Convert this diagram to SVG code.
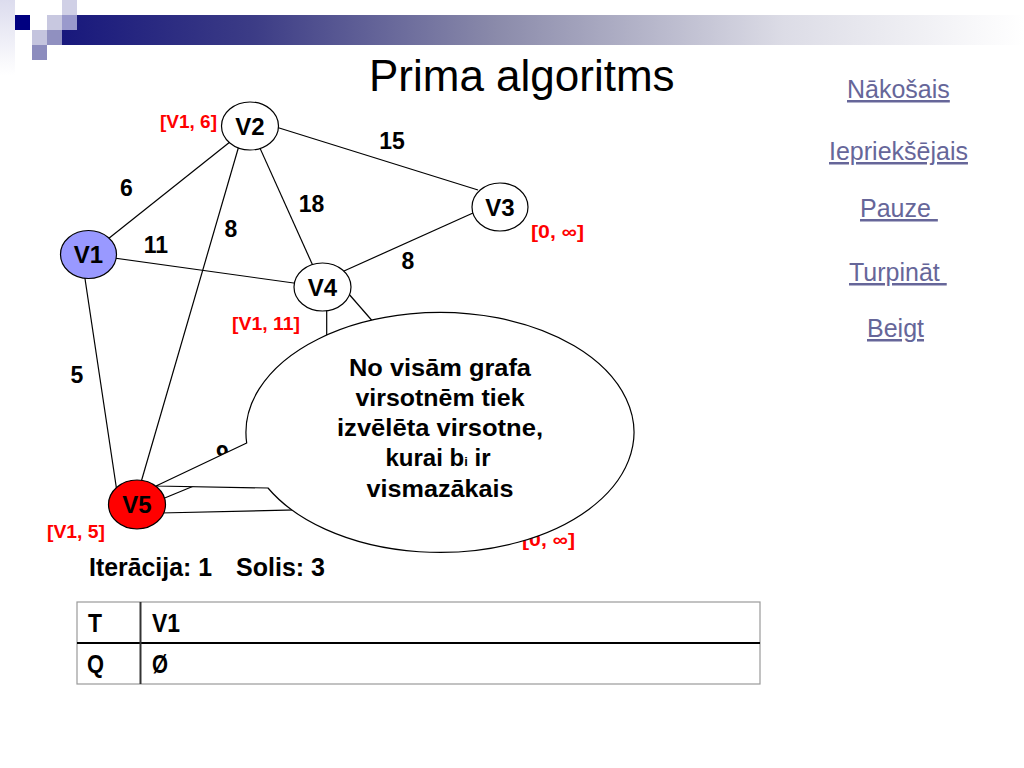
<svg xmlns="http://www.w3.org/2000/svg" width="1024" height="768" viewBox="0 0 1024 768">
<defs>
<linearGradient id="bar" x1="0" y1="0" x2="1" y2="0">
<stop offset="0" stop-color="#18187c"/>
<stop offset="0.2" stop-color="#3c3c86"/>
<stop offset="0.45" stop-color="#8a8aaa"/>
<stop offset="0.75" stop-color="#dcdce6"/>
<stop offset="1" stop-color="#ffffff"/>
</linearGradient>
<linearGradient id="side" x1="0" y1="0" x2="0" y2="1">
<stop offset="0" stop-color="#dcdcee"/>
<stop offset="1" stop-color="#ffffff"/>
</linearGradient>
<style>
.edge{stroke:#000;stroke-width:1.2;fill:none}
.node{stroke:#000;stroke-width:1.2}
.nl{font-family:"Liberation Sans",Arial,sans-serif;font-weight:bold;font-size:24px;text-anchor:middle;fill:#000}
.w{font-family:"Liberation Sans",Arial,sans-serif;font-weight:bold;font-size:23px;text-anchor:middle;fill:#000}
.red{font-family:"Liberation Sans",Arial,sans-serif;font-weight:bold;font-size:18px;fill:#ff0000}
.link{font-family:"Liberation Sans",Arial,sans-serif;font-size:25px;fill:#666699;text-decoration:underline;white-space:pre}
.ct{font-family:"Liberation Sans",Arial,sans-serif;font-weight:bold;font-size:24px;fill:#000;text-anchor:middle}
.tb{font-family:"Liberation Sans",Arial,sans-serif;font-weight:bold;font-size:25px;fill:#000}
</style>
</defs>
<rect width="1024" height="768" fill="#ffffff"/>

<g id="decoration">
<rect x="0" y="0" width="15" height="75" fill="url(#side)"/>
<rect x="62" y="15" width="962" height="30" fill="url(#bar)"/>
<rect x="15" y="15" width="15" height="15" fill="#000080"/>
<rect x="47" y="15" width="15" height="15" fill="#c8c8e0"/>
<rect x="62" y="0" width="15" height="15" fill="#d0d0e6"/>
<rect x="62" y="15" width="15" height="15" fill="#9a9acc"/>
<rect x="32" y="30" width="15" height="15" fill="#c4c4de"/>
<rect x="47" y="30" width="15" height="15" fill="#9090c0"/>
<rect x="32" y="45" width="15" height="15" fill="#8c8cbe"/>
</g>

<text x="369" y="91" font-family="Liberation Sans, Arial, sans-serif" font-size="44" fill="#000">Prima algoritms</text>

<g id="links">
<text class="link" x="847" y="98">Nākošais</text>
<text class="link" x="829" y="160">Iepriekšējais</text>
<text class="link" x="860" y="217">Pauze </text>
<text class="link" x="849" y="281">Turpināt </text>
<text class="link" x="867" y="337">Beigt</text>
</g>

<g id="connectors">
<line class="edge" x1="88.5" y1="254.5" x2="250" y2="126"/>
<line class="edge" x1="88.5" y1="254.5" x2="322.5" y2="287"/>
<line class="edge" x1="250" y1="126" x2="322.5" y2="287"/>
<line class="edge" x1="276" y1="127" x2="478" y2="190"/>
<line class="edge" x1="473" y1="213" x2="344" y2="271"/>
<line class="edge" x1="244.7" y1="126" x2="134.4" y2="505"/>
<line class="edge" x1="84" y1="272" x2="117" y2="492"/>
<line class="edge" x1="326.7" y1="305" x2="326.7" y2="370"/>
<line class="edge" x1="348" y1="293" x2="395" y2="347"/>
<line class="edge" x1="155" y1="502" x2="235" y2="469"/>
<line class="edge" x1="160" y1="513" x2="420" y2="507"/>
</g>

<g id="weights">
<text class="w" x="392" y="149">15</text>
<text class="w" x="126.5" y="196">6</text>
<text class="w" x="311.5" y="212">18</text>
<text class="w" x="231" y="237">8</text>
<text class="w" x="156" y="253">11</text>
<text class="w" x="408" y="269">8</text>
<text class="w" x="77" y="383">5</text>
<text class="w" x="222.5" y="462">9</text>
</g>

<g id="node-V1">
<ellipse class="node" cx="88.5" cy="254.5" rx="28" ry="24" fill="#9999ff"/>
<text class="nl" x="88.5" y="263">V1</text>
</g>
<g id="node-V2">
<ellipse class="node" cx="250" cy="126" rx="28.5" ry="24" fill="#ffffff"/>
<text class="nl" x="250" y="135">V2</text>
<text class="red" x="160" y="128" textLength="57" lengthAdjust="spacingAndGlyphs">[V1, 6]</text>
</g>
<g id="node-V3">
<ellipse class="node" cx="500" cy="207" rx="28" ry="24" fill="#ffffff"/>
<text class="nl" x="500" y="216">V3</text>
<text class="red" x="531" y="238" textLength="53" lengthAdjust="spacingAndGlyphs">[0, ∞]</text>
</g>
<g id="node-V4">
<ellipse class="node" cx="322.5" cy="287" rx="28.5" ry="24" fill="#ffffff"/>
<text class="nl" x="322.5" y="296">V4</text>
<text class="red" x="232" y="330" textLength="68" lengthAdjust="spacingAndGlyphs">[V1, 11]</text>
</g>
<g id="node-V5">
<ellipse class="node" cx="137" cy="504.5" rx="28.5" ry="24.5" fill="#ff0000"/>
<text class="nl" x="137" y="513">V5</text>
<text class="red" x="47" y="538" textLength="58" lengthAdjust="spacingAndGlyphs">[V1, 5]</text>
</g>
<g id="node-V6-label">
<text class="red" x="522" y="546" textLength="53" lengthAdjust="spacingAndGlyphs">[0, ∞]</text>
</g>

<g id="callout">
<path d="M 246.7 443 L 156 486 L 268 488 A 194 120 0 1 0 246.7 443 Z" fill="#ffffff" stroke="#000" stroke-width="1.2"/>
<text class="ct" x="440" y="376" textLength="182" lengthAdjust="spacingAndGlyphs">No visām grafa</text>
<text class="ct" x="440" y="406" textLength="169" lengthAdjust="spacingAndGlyphs">virsotnēm tiek</text>
<text class="ct" x="440" y="436" textLength="206" lengthAdjust="spacingAndGlyphs">izvēlēta virsotne,</text>
<text class="ct" x="438" y="466">kurai b<tspan font-size="13">i</tspan> ir</text>
<text class="ct" x="440" y="497" textLength="147" lengthAdjust="spacingAndGlyphs">vismazākais</text>
</g>

<text class="tb" y="576"><tspan x="89" textLength="123" lengthAdjust="spacingAndGlyphs">Iterācija: 1</tspan><tspan x="236" textLength="89" lengthAdjust="spacingAndGlyphs">Solis: 3</tspan></text>

<g id="table">
<rect x="77" y="602" width="683" height="82" fill="none" stroke="#9a9a9a" stroke-width="1.2"/>
<line x1="77" y1="643" x2="760" y2="643" stroke="#000" stroke-width="2"/>
<line x1="140.5" y1="602" x2="140.5" y2="684" stroke="#333" stroke-width="2"/>
<text class="tb" x="88" y="632" textLength="14" lengthAdjust="spacingAndGlyphs">T</text>
<text class="tb" x="152" y="632" textLength="28" lengthAdjust="spacingAndGlyphs">V1</text>
<text class="tb" x="87" y="673" textLength="17" lengthAdjust="spacingAndGlyphs">Q</text>
<text class="tb" x="152" y="673" textLength="16" lengthAdjust="spacingAndGlyphs">Ø</text>
</g>
</svg>
